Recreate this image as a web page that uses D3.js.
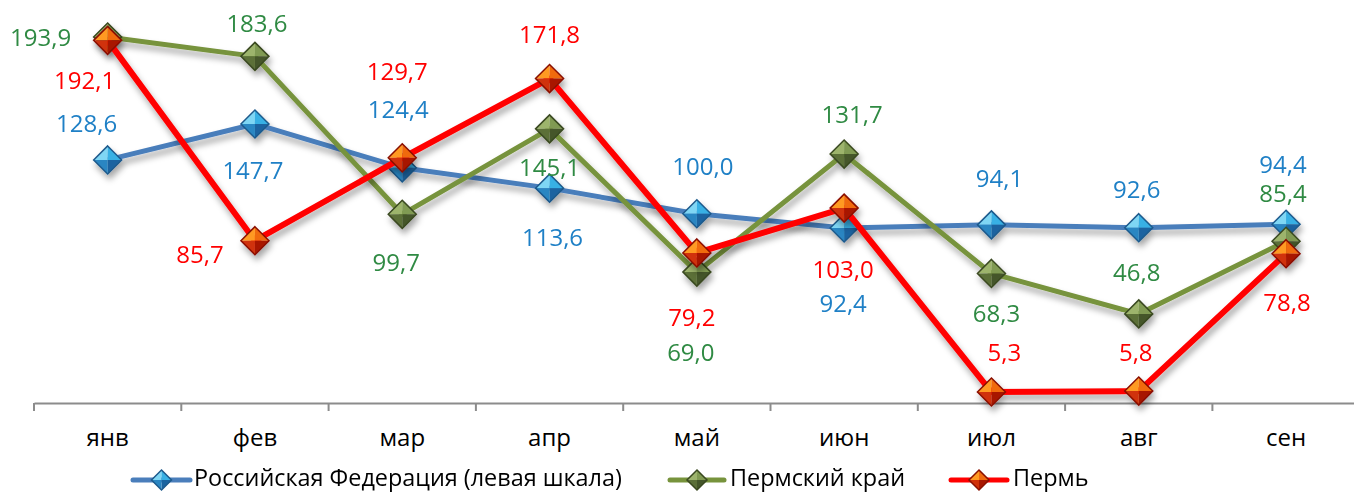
<!DOCTYPE html>
<html>
<head>
<meta charset="utf-8">
<script src="https://cdn.jsdelivr.net/npm/d3@7"></script>
<style>
  html, body { margin: 0; padding: 0; background: #ffffff; }
  svg { display: block; }
</style>
</head>
<body>
<svg id="chart" width="1354" height="493"></svg>
<script>
// ---------------- DATA ----------------
const months = ["янв", "фев", "мар", "апр", "май", "июн", "июл", "авг", "сен"];
const seriesNames = ["Российская Федерация (левая шкала)", "Пермский край", "Пермь"];
const rfValues    = [128.6, 147.7, 124.4, 113.6, 100.0, 92.4, 94.1, 92.6, 94.4];
const kraiValues  = [193.9, 183.6, 99.7, 145.1, 69.0, 131.7, 68.3, 46.8, 85.4];
const permValues  = [192.1, 85.7, 129.7, 171.8, 79.2, 103.0, 5.3, 5.8, 78.8];

// ---------------- LAYOUT / STYLE ----------------
const FONT = "'Open Sans', 'Noto Sans', sans-serif";
const styles = [
  { line: "#4a7ebb", width: 5, text: "#1f80c6",
    facets: ["#7fd6f4", "#38b0e4", "#1a64a0", "#2a86c2"], stroke: "#1d5a8c" },
  { line: "#77933c", width: 5, text: "#2f8a43",
    facets: ["#9db46c", "#809a52", "#44562a", "#5b6f38"], stroke: "#3a4920" },
  { line: "#ff0000", width: 6, text: "#ff0000",
    facets: ["#ff9a22", "#f06a10", "#a81600", "#d03008"], stroke: "#8a1000" }
];
// manual label placement offsets (dx, dy) relative to each point, as in the reference
const labelOffsets = [
  [[-21,-36],[-2,46],[-4,-58],[3,49],[6,-47],[-1,75],[8,-46],[-2,-38],[-3,-60]],
  [[-67,0],[2,-33],[-6,48],[0,39],[-6,80],[8,-40],[5,40],[-2,-41],[-3,-48]],
  [[-23,40],[-55,14],[-5,-86],[0,-44],[-5,65],[-1,61],[13,-40],[-3,-39],[1,49]]
];
const legendPos = [
  { x0: 133, x1: 190, tx: 194 },
  { x0: 670, x1: 724, tx: 730 },
  { x0: 951, x1: 1007, tx: 1013 }
];

const svg = d3.select("#chart");
const defs = svg.append("defs");
const f = defs.append("filter").attr("id", "shadow")
  .attr("x", "-20%").attr("y", "-20%").attr("width", "140%").attr("height", "160%");
f.append("feDropShadow").attr("dx", 2).attr("dy", 5).attr("stdDeviation", 3)
  .attr("flood-color", "#000").attr("flood-opacity", 0.35);

const x = d3.scaleBand().domain(months).range([34, 34 + 9 * 147.3]).padding(0);
const y = d3.scaleLinear().domain([0, 200]).range([402, 25.5]);

// ---------------- AXIS ----------------
const axisY = 403;
const axis = d3.axisBottom(x).tickSize(0).tickSizeOuter(0);
const ag = svg.append("g").attr("transform", `translate(0,${axisY})`).call(axis);
ag.select(".domain").attr("stroke", "#8c8c8c").attr("stroke-width", 2);
ag.selectAll(".tick text")
  .attr("y", 43).attr("dy", 0)
  .attr("font-family", FONT).attr("font-size", 24).attr("fill", "#000");
// boundary tick marks (between categories)
ag.selectAll(".bound")
  .data(months.map(m => x(m)))
  .enter().append("line")
  .attr("class", "bound")
  .attr("x1", d => d).attr("x2", d => d)
  .attr("y1", 0).attr("y2", 8)
  .attr("stroke", "#8c8c8c").attr("stroke-width", 2);

// ---------------- SERIES ----------------
const allSeries = [rfValues, kraiValues, permValues];
const cx = m => x(m) + x.bandwidth() / 2;

function drawDiamond(g, r, st) {
  const T = [0, -r], R = [r, 0], B = [0, r], L = [-r, 0];
  const tri = (a, b) => `M${a[0]},${a[1]}L${b[0]},${b[1]}L0,0Z`;
  g.append("path").attr("d", tri(L, T)).attr("fill", st.facets[0]);
  g.append("path").attr("d", tri(T, R)).attr("fill", st.facets[1]);
  g.append("path").attr("d", tri(R, B)).attr("fill", st.facets[2]);
  g.append("path").attr("d", tri(B, L)).attr("fill", st.facets[3]);
  g.append("path").attr("d", `M0,${-r}L${r},0L0,${r}L${-r},0Z`)
    .attr("fill", "none").attr("stroke", st.stroke).attr("stroke-width", 1.5);
}

allSeries.forEach((vals, si) => {
  const st = styles[si];
  const data = months.map((m, i) => ({ m, v: vals[i] }));
  const g = svg.append("g").attr("filter", "url(#shadow)");
  g.append("path")
    .datum(data)
    .attr("fill", "none")
    .attr("stroke", st.line)
    .attr("stroke-width", st.width)
    .attr("stroke-linejoin", "round")
    .attr("d", d3.line().x(d => cx(d.m)).y(d => y(d.v)));
  g.selectAll(".mk").data(data).enter().append("g")
    .attr("class", "mk")
    .attr("transform", d => `translate(${cx(d.m)},${y(d.v)})`)
    .each(function () { drawDiamond(d3.select(this), 14, st); });
});

// ---------------- DATA LABELS ----------------
allSeries.forEach((vals, si) => {
  const st = styles[si];
  svg.append("g").selectAll("text")
    .data(months.map((m, i) => ({ m, v: vals[i], o: labelOffsets[si][i] })))
    .enter().append("text")
    .attr("x", d => cx(d.m) + d.o[0])
    .attr("y", d => y(d.v) + d.o[1])
    .attr("dy", "0.357em")
    .attr("text-anchor", "middle")
    .attr("font-family", FONT)
    .attr("font-size", 24)
    .attr("fill", st.text)
    .text(d => d3.format(".1f")(d.v).replace(".", ","));
});

// ---------------- LEGEND ----------------
const lg = svg.append("g");
seriesNames.forEach((name, si) => {
  const st = styles[si], p = legendPos[si];
  const it = lg.append("g");
  it.append("line")
    .attr("x1", p.x0).attr("x2", p.x1).attr("y1", 480).attr("y2", 480)
    .attr("stroke", st.line).attr("stroke-width", 5).attr("stroke-linecap", "round");
  const dg = it.append("g").attr("transform", `translate(${(p.x0 + p.x1) / 2},480)`);
  drawDiamond(dg, 10, st);
  it.append("text")
    .attr("x", p.tx).attr("y", 486)
    .attr("font-family", FONT).attr("font-size", 23.4).attr("fill", "#000")
    .text(name);
});
</script>
</body>
</html>
